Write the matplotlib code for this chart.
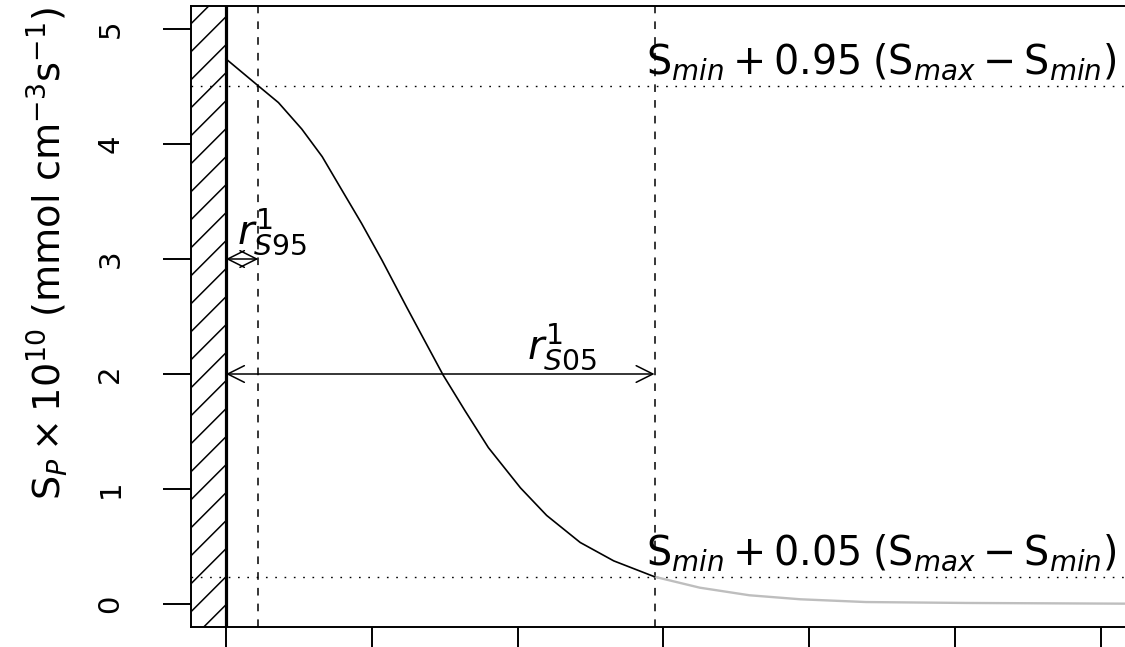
import numpy as np
import matplotlib
matplotlib.use('Agg')
import matplotlib.pyplot as plt
from matplotlib.patches import Rectangle

plt.rcParams['font.family'] = ['DejaVu Sans']
plt.rcParams['mathtext.fontset'] = 'dejavusans'

# source profile (distance from wall, S_P x 1e10)
r_main = [0.00, 0.222, 0.36, 0.52, 0.66, 0.79, 0.93, 1.07, 1.24, 1.35, 1.49,
          1.64, 1.80, 2.02, 2.20, 2.43, 2.66, 2.94]
s_main = [4.74, 4.505, 4.36, 4.13, 3.89, 3.61, 3.31, 2.99, 2.58, 2.32, 1.99,
          1.68, 1.36, 1.01, 0.77, 0.535, 0.375, 0.237]
# tail beyond r_S05, drawn in grey
r_tail = [2.94, 3.25, 3.59, 3.94, 4.39, 5.08, 6.15, 6.60]
s_tail = [0.237, 0.142, 0.076, 0.041, 0.017, 0.009, 0.003, 0.003]

s_max = 4.74
s_min = 0.0
r_s95 = 0.222
r_s05 = 2.94
s_95 = s_min + 0.95 * (s_max - s_min)
s_05 = s_min + 0.05 * (s_max - s_min)

arrow_y95 = 3
arrow_y05 = 2
x_ticks = [0, 1, 2, 3, 4, 5, 6]
y_ticks = [0, 1, 2, 3, 4, 5]

W, H = 1125, 647
fig = plt.figure(figsize=(W / 100, H / 100), dpi=100)
xlim = (-0.24, 6.40)
ylim = (-0.2, 5.2)
px_per_x = 145.77
ax_left, ax_top, ax_bottom = 191, 6, 627
ax = fig.add_axes([ax_left / W, (H - ax_bottom) / H,
                   (xlim[1] - xlim[0]) * px_per_x / W, (ax_bottom - ax_top) / H])
ax.set_xlim(*xlim)
ax.set_ylim(*ylim)

# wall with hatching (45 deg in pixel space)
wall = Rectangle((xlim[0], ylim[0]), 0 - xlim[0], ylim[1] - ylim[0],
                 fill=False, lw=0, transform=ax.transData)
ax.add_patch(wall)
sx = ax.transData.transform((1, 0))[0] - ax.transData.transform((0, 0))[0]
sy = ax.transData.transform((0, 1))[1] - ax.transData.transform((0, 0))[1]
slope = sx / sy
spacing = 28 / sy
wall_w = 0 - xlim[0]
for c in np.arange(ylim[0] - slope * wall_w - 0.05, ylim[1] + spacing, spacing):
    ln, = ax.plot([xlim[0], 0], [c, c + slope * wall_w], color='black', lw=1.1)
    ln.set_clip_path(wall)
ax.axvline(0, color='black', lw=2.3)

# reference lines
ax.axhline(s_95, color='black', lw=1.0, linestyle=(0, (1.2, 5.5)))
ax.axhline(s_05, color='black', lw=1.0, linestyle=(0, (1.2, 5.5)))
ax.axvline(r_s95, color='black', lw=1.1, linestyle=(0, (5, 5.3)))
ax.axvline(r_s05, color='black', lw=1.1, linestyle=(0, (5, 5.3)))

# curve
ax.plot(r_tail, s_tail, color='#BEBEBE', lw=1.7)
ax.plot(r_main, s_main, color='black', lw=1.2)

# arrows
arw = dict(arrowstyle='<->,head_length=0.4,head_width=0.2', color='black',
           lw=1.1, shrinkA=0, shrinkB=0, mutation_scale=30)
ax.annotate('', xy=(0, arrow_y95), xytext=(r_s95, arrow_y95), arrowprops=arw)
ax.annotate('', xy=(0, arrow_y05), xytext=(r_s05, arrow_y05), arrowprops=arw)
ax.text(0.075, arrow_y95 + 0.01, r'$r_{\mathit{S95}}^{1}$', fontsize=29,
        ha='left', va='bottom')
ax.text(2.065, arrow_y05 + 0.01, r'$r_{\mathit{S05}}^{1}$', fontsize=29,
        ha='left', va='bottom')

lbl95 = (r'$\mathrm{S}_{\mathit{min}}+0.95\;'
         r'(\mathrm{S}_{\mathit{max}}-\mathrm{S}_{\mathit{min}})$')
lbl05 = (r'$\mathrm{S}_{\mathit{min}}+0.05\;'
         r'(\mathrm{S}_{\mathit{max}}-\mathrm{S}_{\mathit{min}})$')
ax.text(6.11, s_95 + 0.03, lbl95, fontsize=28.5, ha='right', va='bottom')
ax.text(6.11, s_05 + 0.03, lbl05, fontsize=28.5, ha='right', va='bottom')

# axes styling
for sp in ax.spines.values():
    sp.set_linewidth(1.4)
ax.set_xticks(x_ticks)
ax.set_yticks(y_ticks)
ax.tick_params(axis='both', direction='out', length=20, width=1.4)
ax.tick_params(axis='x', labelbottom=False)
ax.tick_params(axis='y', labelsize=21, pad=28, labelrotation=90)
for t in ax.get_yticklabels():
    t.set_va('center')

fig.text(47 / W, 1 - 254 / H,
         r'$\mathrm{S}_{P}\times10^{10}\;'
         r'\left(\mathrm{mmol\ cm}^{-3}\mathrm{s}^{-1}\right)$',
         fontsize=27.5, rotation=90, ha='center', va='center')

fig.savefig('out.png', dpi=100)
